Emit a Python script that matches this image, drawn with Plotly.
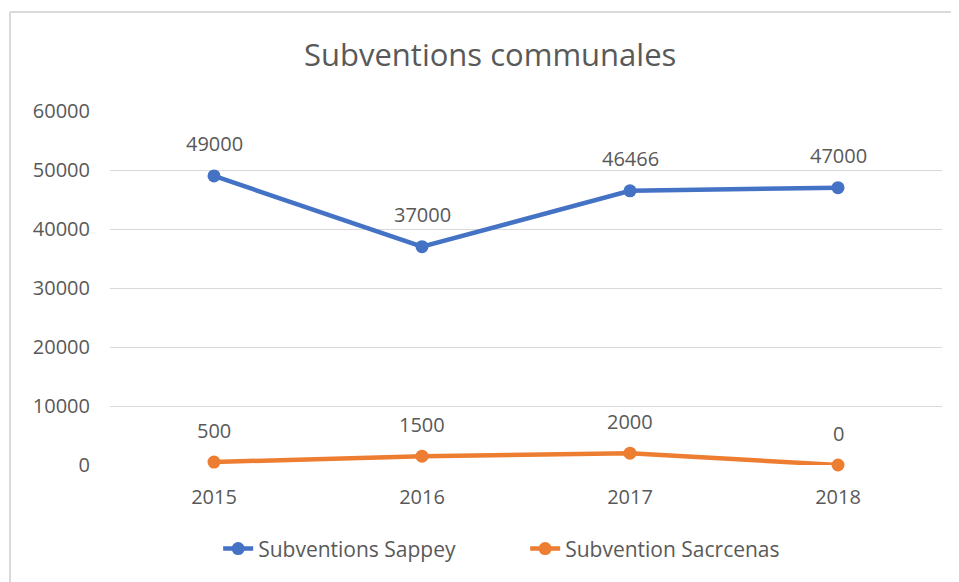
import plotly.graph_objects as go

years = ["2015", "2016", "2017", "2018"]
sappey = [49000, 37000, 46466, 47000]
sacrcenas = [500, 1500, 2000, 0]
y_ticks = [0, 10000, 20000, 30000, 40000, 50000, 60000]

BLUE = "#4472C4"
ORANGE = "#ED7D31"
TXT = "#595959"
FONT = "Open Sans"

fig = go.Figure()
fig.add_trace(go.Scatter(x=years, y=sappey, mode="lines+markers", name="Subventions Sappey",
                         line=dict(color=BLUE, width=4.5), marker=dict(color=BLUE, size=13),
                         cliponaxis=False))
fig.add_trace(go.Scatter(x=years, y=sacrcenas, mode="lines+markers", name="Subvention Sacrcenas",
                         line=dict(color=ORANGE, width=4.5), marker=dict(color=ORANGE, size=13),
                         cliponaxis=False))

for series in (sappey, sacrcenas):
    for i, yv in enumerate(series):
        fig.add_annotation(x=i, y=yv, xref="x", yref="y", text=str(yv), showarrow=False, yshift=32,
                           font=dict(family=FONT, size=20, color=TXT))

# chart border (only left and top edges visible in the reference)
fig.add_shape(type="line", xref="paper", yref="paper", x0=-0.1202, x1=-0.1202, y0=-0.4, y1=1.2797,
              line=dict(color="#D9D9D9", width=2), layer="below")
fig.add_shape(type="line", xref="paper", yref="paper", x0=-0.1202, x1=1.05, y0=1.2797, y1=1.2797,
              line=dict(color="#D9D9D9", width=2), layer="below")

fig.update_layout(
    width=951, height=574,
    margin=dict(l=102, r=17, t=103, b=117),
    paper_bgcolor="white", plot_bgcolor="white",
    title=dict(text="Subventions communales", x=0.507, xanchor="center", y=0.918, yanchor="middle",
               font=dict(family=FONT, size=31, color=TXT)),
    font=dict(family=FONT, color=TXT),
    xaxis=dict(type="category", range=[-0.5, 3.5], showgrid=False, zeroline=False, showline=False,
               ticks="", tickfont=dict(size=20, color=TXT), ticklabelstandoff=18),
    yaxis=dict(range=[0, 60000], tickvals=y_ticks, ticktext=[str(v) for v in y_ticks],
               showgrid=True, gridcolor="#D9D9D9", gridwidth=1.3, zeroline=False, showline=False,
               tickfont=dict(size=20, color=TXT), ticklabelstandoff=19),
    legend=dict(orientation="h", x=0.13, xanchor="left", y=-0.237, yanchor="middle",
                font=dict(size=21, color=TXT), entrywidth=262, entrywidthmode="pixels"),
    showlegend=True,
)

fig.write_html("out.html")
